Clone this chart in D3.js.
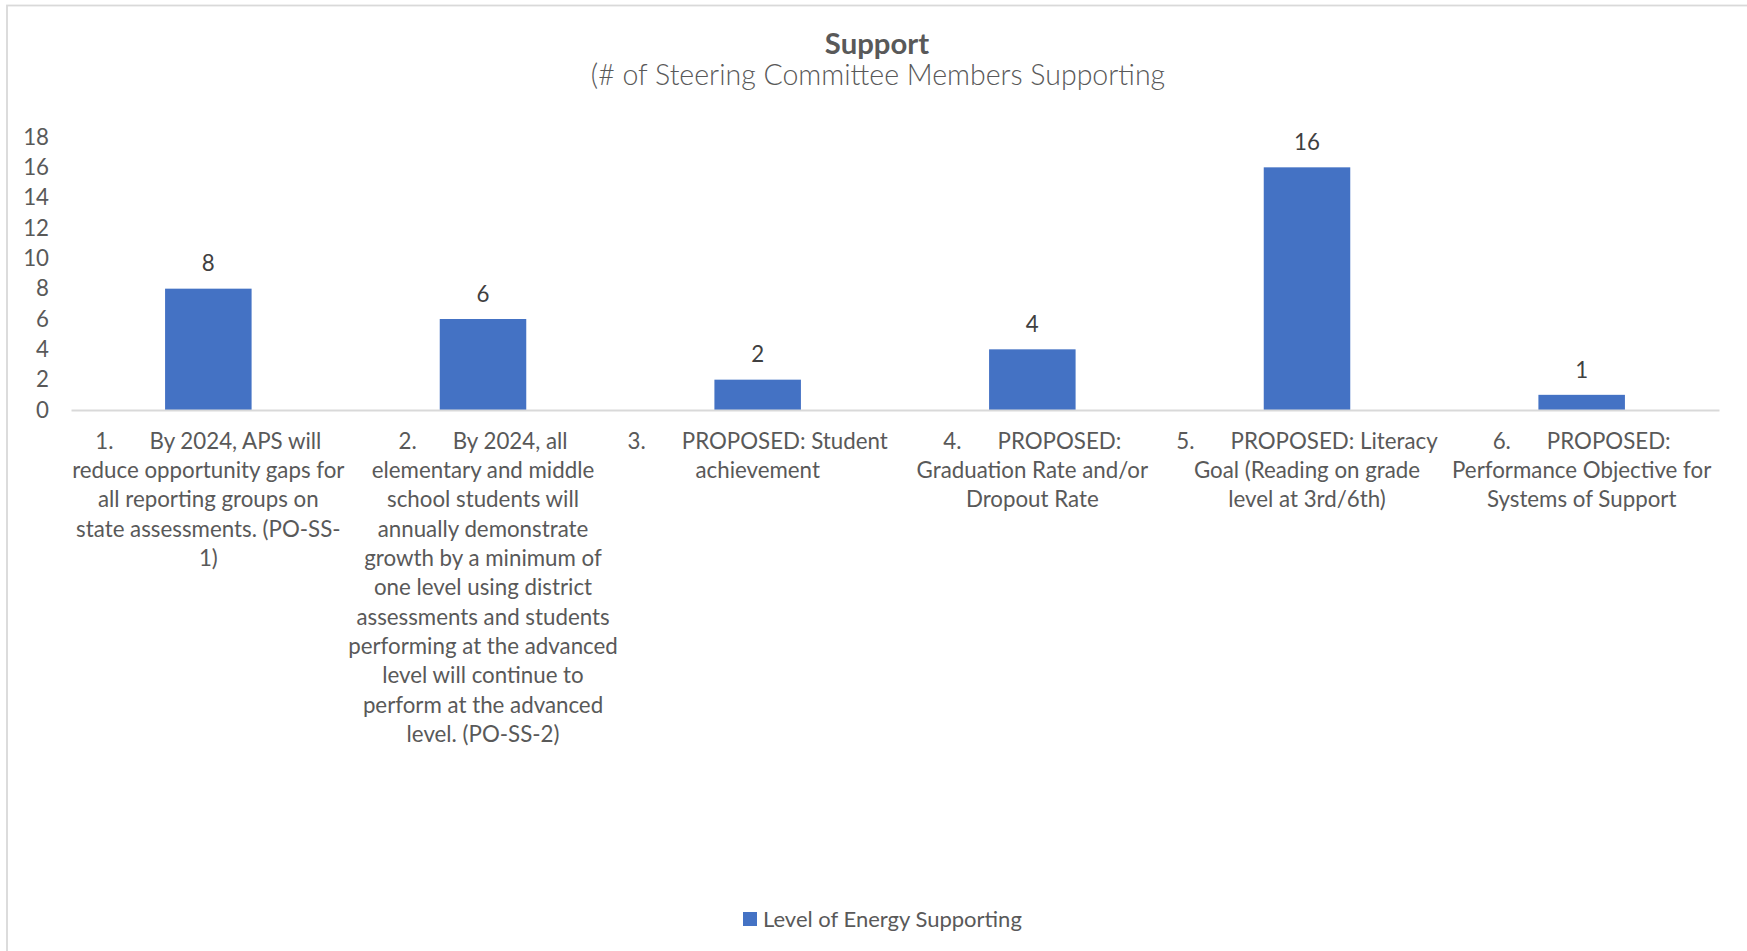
<!DOCTYPE html>
<html>
<head>
<meta charset="utf-8">
<script src="https://cdn.jsdelivr.net/npm/d3@7"></script>
<style>
  html, body { margin: 0; padding: 0; background: #ffffff; }
  svg { display: block; font-family: Lato, "Open Sans", sans-serif; }
</style>
</head>
<body>
<svg id="chart" width="1747" height="951"></svg>
<script>
// ---- data ----
const titleText = "Support";
const subtitleText = "(# of Steering Committee Members Supporting";
const seriesName = "Level of Energy Supporting";
const categoryNumbers = ["1.", "2.", "3.", "4.", "5.", "6."];
const categoryLines = [
  ["By 2024, APS will", "reduce opportunity gaps for", "all reporting groups on", "state assessments. (PO-SS-", "1)"],
  ["By 2024, all", "elementary and middle", "school students will", "annually demonstrate", "growth by a minimum of", "one level using district", "assessments and students", "performing at the advanced", "level will continue to", "perform at the advanced", "level. (PO-SS-2)"],
  ["PROPOSED: Student", "achievement"],
  ["PROPOSED:", "Graduation Rate and/or", "Dropout Rate"],
  ["PROPOSED: Literacy", "Goal (Reading on grade", "level at 3rd/6th)"],
  ["PROPOSED:", "Performance Objective for", "Systems of Support"]
];
const values = [8, 6, 2, 4, 16, 1];
const yTicks = [0, 2, 4, 6, 8, 10, 12, 14, 16, 18];

// ---- layout ----
const svg = d3.select("#chart");
const plot = { left: 71, right: 1719, top: 137, bottom: 410 };
const barColor = "#4472C4";
const textGray = "#595959";
const fontSize = 22.3;

// chart border
svg.append("rect")
  .attr("x", 7).attr("y", 5.5)
  .attr("width", 1760).attr("height", 960)
  .attr("fill", "none").attr("stroke", "#d9d9d9").attr("stroke-width", 1.8);

// titles
svg.append("text")
  .attr("x", 877).attr("y", 54)
  .attr("text-anchor", "middle")
  .attr("font-weight", 700).attr("font-size", 29.3)
  .attr("fill", textGray)
  .text(titleText);
svg.append("text")
  .attr("x", 878).attr("y", 85)
  .attr("text-anchor", "middle")
  .attr("font-weight", 300).attr("font-size", 28.5)
  .attr("fill", textGray)
  .text(subtitleText);

const ids = categoryNumbers;
const x = d3.scaleBand()
  .domain(ids)
  .range([plot.left, plot.right])
  .paddingInner(0.685)
  .paddingOuter(0.3425);
const y = d3.scaleLinear().domain([0, 18]).range([plot.bottom, plot.top]);

// y axis
const yAxis = svg.append("g")
  .attr("transform", `translate(${plot.left},0)`)
  .call(d3.axisLeft(y).tickValues(yTicks).tickSize(0).tickPadding(22));
yAxis.select(".domain").remove();
yAxis.selectAll("text")
  .attr("font-family", "Lato, sans-serif")
  .attr("font-size", fontSize)
  .attr("fill", textGray);

// bars
svg.append("g").selectAll("rect")
  .data(values)
  .join("rect")
  .attr("x", (d, i) => x(ids[i]))
  .attr("y", d => y(d))
  .attr("width", x.bandwidth())
  .attr("height", d => y(0) - y(d))
  .attr("fill", barColor);

// data labels
svg.append("g").selectAll("text")
  .data(values)
  .join("text")
  .attr("x", (d, i) => x(ids[i]) + x.bandwidth() / 2)
  .attr("y", d => y(d) - 25)
  .attr("dy", "0.35em")
  .attr("text-anchor", "middle")
  .attr("font-size", fontSize)
  .attr("fill", "#404040")
  .text(d => d);

// x axis
const xAxis = svg.append("g")
  .attr("transform", `translate(0,${plot.bottom})`)
  .call(d3.axisBottom(x).tickSize(0).tickSizeOuter(0).tickFormat(""));
xAxis.select(".domain")
  .attr("stroke", "#d9d9d9").attr("stroke-width", 1.8);

const lineH = 29.3;
xAxis.selectAll(".tick").each(function(id, i) {
  const g = d3.select(this);
  g.selectAll("text").remove();
  const l0 = g.append("text")
    .attr("x", 0).attr("y", 31).attr("dy", "0.35em")
    .attr("text-anchor", "middle")
    .attr("font-family", "Lato, sans-serif")
    .attr("font-size", fontSize)
    .attr("fill", textGray);
  l0.append("tspan").text(categoryNumbers[i]);
  l0.append("tspan").attr("dx", 36).text(categoryLines[i][0]);
  categoryLines[i].slice(1).forEach((line, j) => {
    g.append("text")
      .attr("x", 0).attr("y", 31 + lineH * (j + 1)).attr("dy", "0.35em")
      .attr("text-anchor", "middle")
      .attr("font-family", "Lato, sans-serif")
      .attr("font-size", fontSize)
      .attr("fill", textGray)
      .text(line);
  });
});

// legend
const legend = svg.append("g").attr("transform", "translate(743,912)");
legend.append("rect").attr("width", 14).attr("height", 14).attr("fill", barColor);
legend.append("text")
  .attr("x", 20).attr("y", 7).attr("dy", "0.35em")
  .attr("font-size", 22)
  .attr("fill", textGray)
  .text(seriesName);
</script>
</body>
</html>
